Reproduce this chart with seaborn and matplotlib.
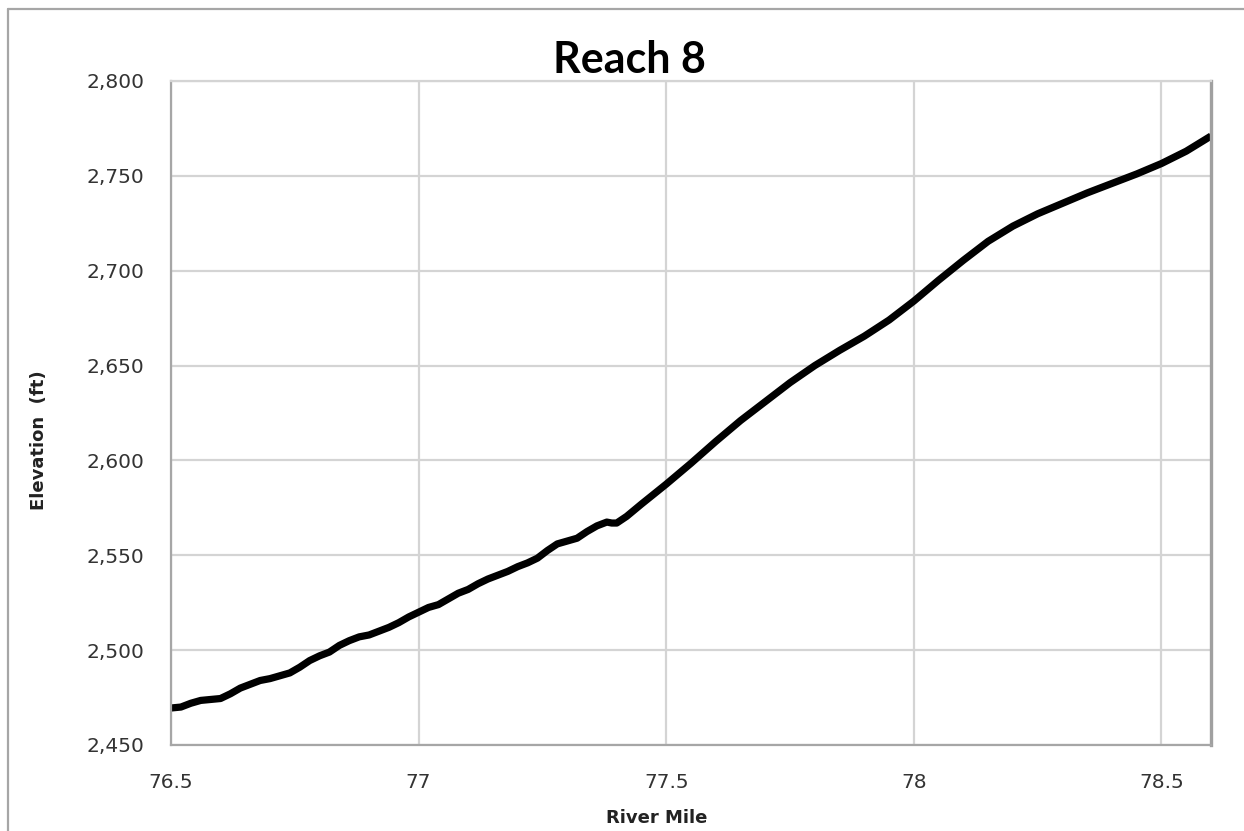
import matplotlib
matplotlib.use("Agg")
import matplotlib.pyplot as plt
import seaborn as sns
import pandas as pd
from matplotlib.ticker import FuncFormatter
from matplotlib.lines import Line2D

# ---- data ----
river_mile = [76.50, 76.52, 76.54, 76.56, 76.58, 76.60, 76.62, 76.64, 76.66, 76.68,
              76.70, 76.72, 76.74, 76.76, 76.78, 76.80, 76.82, 76.84, 76.86, 76.88,
              76.90, 76.92, 76.94, 76.96, 76.98, 77.00, 77.02, 77.04, 77.06, 77.08,
              77.10, 77.12, 77.14, 77.16, 77.18, 77.20, 77.22, 77.24, 77.26, 77.28,
              77.30, 77.32, 77.34, 77.36, 77.38, 77.39, 77.40, 77.42, 77.45, 77.50,
              77.55, 77.60, 77.65, 77.70, 77.75, 77.80, 77.85, 77.90, 77.95, 78.00,
              78.05, 78.10, 78.15, 78.20, 78.25, 78.30, 78.35, 78.40, 78.45, 78.50,
              78.55, 78.60]
elevation = [2469.5, 2470.0, 2472.0, 2473.5, 2474.0, 2474.5, 2477.0, 2480.0, 2482.0, 2484.0,
             2485.0, 2486.5, 2488.0, 2491.0, 2494.5, 2497.0, 2499.0, 2502.5, 2505.0, 2507.0,
             2508.0, 2510.0, 2512.0, 2514.5, 2517.5, 2520.0, 2522.5, 2524.0, 2527.0, 2530.0,
             2532.0, 2535.0, 2537.5, 2539.5, 2541.5, 2544.0, 2546.0, 2548.5, 2552.5, 2556.0,
             2557.5, 2559.0, 2562.5, 2565.5, 2567.5, 2567.0, 2567.0, 2570.5, 2577.0, 2587.5,
             2598.5, 2610.0, 2621.0, 2631.0, 2641.0, 2650.0, 2658.0, 2665.5, 2674.0, 2684.0,
             2695.0, 2705.5, 2715.5, 2723.5, 2730.0, 2735.5, 2741.0, 2746.0, 2751.0, 2756.5,
             2763.0, 2771.0]

x_ticks = [76.5, 77, 77.5, 78, 78.5]
x_tick_labels = ["76.5", "77", "77.5", "78", "78.5"]
y_ticks = [2450, 2500, 2550, 2600, 2650, 2700, 2750, 2800]

title = "Reach 8"
x_label = "River Mile"
y_label = "Elevation  (ft)"

df = pd.DataFrame({"River Mile": river_mile, "Elevation": elevation})

sns.set_theme(style="whitegrid")
plt.rcParams["font.family"] = ["DejaVu Sans"]

W, H = 1244, 831
fig = plt.figure(figsize=(W / 100, H / 100), dpi=100)
fig.patch.set_facecolor("white")
ax = fig.add_axes([171 / W, 1 - 745 / H, (1211 - 171) / W, (745 - 81) / H])

sns.lineplot(data=df, x="River Mile", y="Elevation", ax=ax, color="black",
             linewidth=5.2, sort=False, estimator=None)
for ln in ax.lines:
    ln.set_solid_capstyle("butt")
    ln.set_solid_joinstyle("round")

ax.set_xlim(76.5, 78.6)
ax.set_ylim(2450, 2800)
ax.set_xticks(x_ticks)
ax.set_xticklabels(x_tick_labels)
ax.set_yticks(y_ticks)
ax.yaxis.set_major_formatter(FuncFormatter(lambda v, p: f"{int(v):,}"))

ax.grid(True, color="#d4d4d4", linewidth=1.6)
ax.set_axisbelow(True)
ax.set_facecolor("white")

for side in ["left", "bottom"]:
    ax.spines[side].set_color("#a6a6a6")
    ax.spines[side].set_linewidth(1.6)
ax.spines["top"].set_color("#d4d4d4")
ax.spines["top"].set_linewidth(1.6)
ax.spines["right"].set_color("#a0a0a0")
ax.spines["right"].set_linewidth(2.4)

ax.tick_params(axis="both", which="both", length=0, labelsize=14.5, colors="#333333")
ax.tick_params(axis="y", pad=19)
ax.tick_params(axis="x", pad=20)

ax.set_xlabel(x_label, fontsize=13, fontweight="bold", color="#222222")
ax.set_ylabel(y_label, fontsize=13, fontweight="bold", color="#222222")
ax.xaxis.label.set_va("center")
ax.yaxis.label.set_ha("center")
ax.yaxis.label.set_va("center")
ax.xaxis.set_label_coords((657 - 171) / (1211 - 171), (745 - 818) / (745 - 81))
ax.yaxis.set_label_coords((39 - 171) / (1211 - 171), (745 - 440) / (745 - 81))

fig.text(629 / W, 1 - 60 / H, title, ha="center", va="center", fontsize=31,
         fontweight="bold", family=["Lato", "DejaVu Sans"], color="black")

# outer chart frame (left and top edges visible)
fig.add_artist(Line2D([8 / W, 8 / W], [0, 1 - 9 / H], transform=fig.transFigure,
                      color="#a6a6a6", linewidth=1.6))
fig.add_artist(Line2D([8 / W, 1], [1 - 9 / H, 1 - 9 / H], transform=fig.transFigure,
                      color="#a6a6a6", linewidth=1.6))

fig.savefig("out.png", dpi=100, facecolor="white")
